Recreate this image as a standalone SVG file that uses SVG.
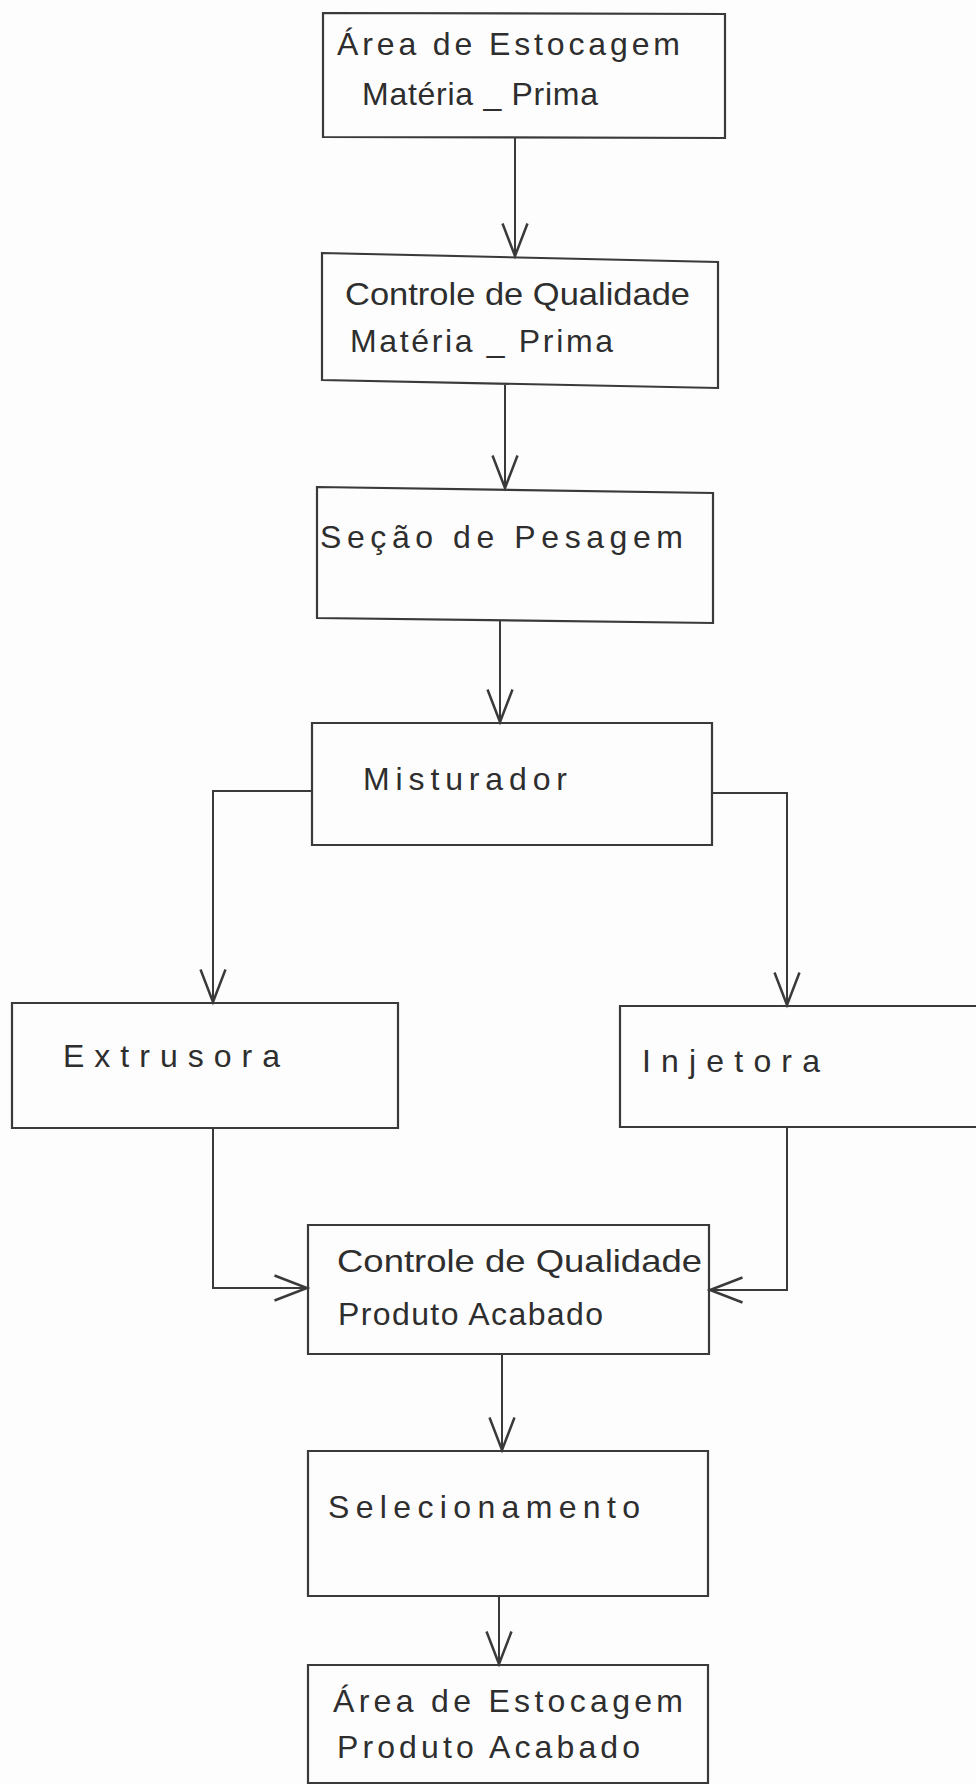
<svg xmlns="http://www.w3.org/2000/svg" width="976" height="1785" viewBox="0 0 976 1785">
<style>
.box{fill:none;stroke:#3a3a3a;stroke-width:2.2;stroke-linejoin:miter}
.con{fill:none;stroke:#3a3a3a;stroke-width:2}
.lbl{font-family:"Liberation Sans","DejaVu Sans",sans-serif;font-size:32px;fill:#2e2e2e}
</style>
<defs>
<marker id="ah" markerUnits="userSpaceOnUse" markerWidth="40" markerHeight="40" refX="0" refY="0" viewBox="-30 -15 32 30" orient="auto" overflow="visible">
<path d="M-26,-10 L0,0 L-26,10" fill="none" stroke="#3a3a3a" stroke-width="2"/>
</marker>
</defs>
<rect width="976" height="1785" fill="#fdfdfd"/>
<g id="connectors">
<path class="con" d="M515,138 L515,256" marker-end="url(#ah)"/>
<path class="con" d="M505,385 L505,488" marker-end="url(#ah)"/>
<path class="con" d="M500,621 L500,722" marker-end="url(#ah)"/>
<path class="con" d="M312,791 L213,791 L213,1002" marker-end="url(#ah)"/>
<path class="con" d="M712,793 L787,793 L787,1005" marker-end="url(#ah)"/>
<path class="con" d="M213,1128 L213,1288 L307,1288" marker-end="url(#ah)"/>
<path class="con" d="M787,1127 L787,1290 L710,1290" marker-end="url(#ah)"/>
<path class="con" d="M502,1354 L502,1450" marker-end="url(#ah)"/>
<path class="con" d="M499,1597 L499,1664" marker-end="url(#ah)"/>
</g>
<g id="n1">
<path class="box" d="M323,13 L725,14 L725,138 L323,137 Z"/>
<text class="lbl" x="337" y="55" textLength="343" lengthAdjust="spacing">Área de Estocagem</text>
<text class="lbl" x="362" y="105" textLength="236" lengthAdjust="spacing">Matéria _ Prima</text>
</g>
<g id="n2">
<path class="box" d="M322,253 L718,262 L718,388 L322,380 Z"/>
<text class="lbl" x="345" y="305" textLength="345" lengthAdjust="spacingAndGlyphs">Controle de Qualidade</text>
<text class="lbl" x="350" y="352" textLength="263" lengthAdjust="spacing">Matéria _ Prima</text>
</g>
<g id="n3">
<path class="box" d="M317,487 L713,493 L713,623 L317,618 Z"/>
<text class="lbl" x="320" y="548" textLength="363" lengthAdjust="spacing">Seção de Pesagem</text>
</g>
<g id="n4">
<path class="box" d="M312,723 L712,723 L712,845 L312,845 Z"/>
<text class="lbl" x="363" y="790" textLength="204" lengthAdjust="spacing">Misturador</text>
</g>
<g id="n5">
<path class="box" d="M12,1003 L398,1003 L398,1128 L12,1128 Z"/>
<text class="lbl" x="63" y="1067" textLength="217" lengthAdjust="spacing">Extrusora</text>
</g>
<g id="n6">
<path class="box" d="M980,1006 L620,1006 L620,1127 L980,1127"/>
<text class="lbl" x="642" y="1072" textLength="178" lengthAdjust="spacing">Injetora</text>
</g>
<g id="n7">
<path class="box" d="M308,1225 L709,1225 L709,1354 L308,1354 Z"/>
<text class="lbl" x="337" y="1272" textLength="365" lengthAdjust="spacingAndGlyphs">Controle de Qualidade</text>
<text class="lbl" x="338" y="1325" textLength="265" lengthAdjust="spacing">Produto Acabado</text>
</g>
<g id="n8">
<path class="box" d="M308,1451 L708,1451 L708,1596 L308,1596 Z"/>
<text class="lbl" x="328" y="1518" textLength="312" lengthAdjust="spacing">Selecionamento</text>
</g>
<g id="n9">
<path class="box" d="M308,1665 L708,1665 L708,1783 L308,1783 Z"/>
<text class="lbl" x="333" y="1712" textLength="350" lengthAdjust="spacing">Área de Estocagem</text>
<text class="lbl" x="337" y="1758" textLength="303" lengthAdjust="spacing">Produto Acabado</text>
</g>
</svg>
